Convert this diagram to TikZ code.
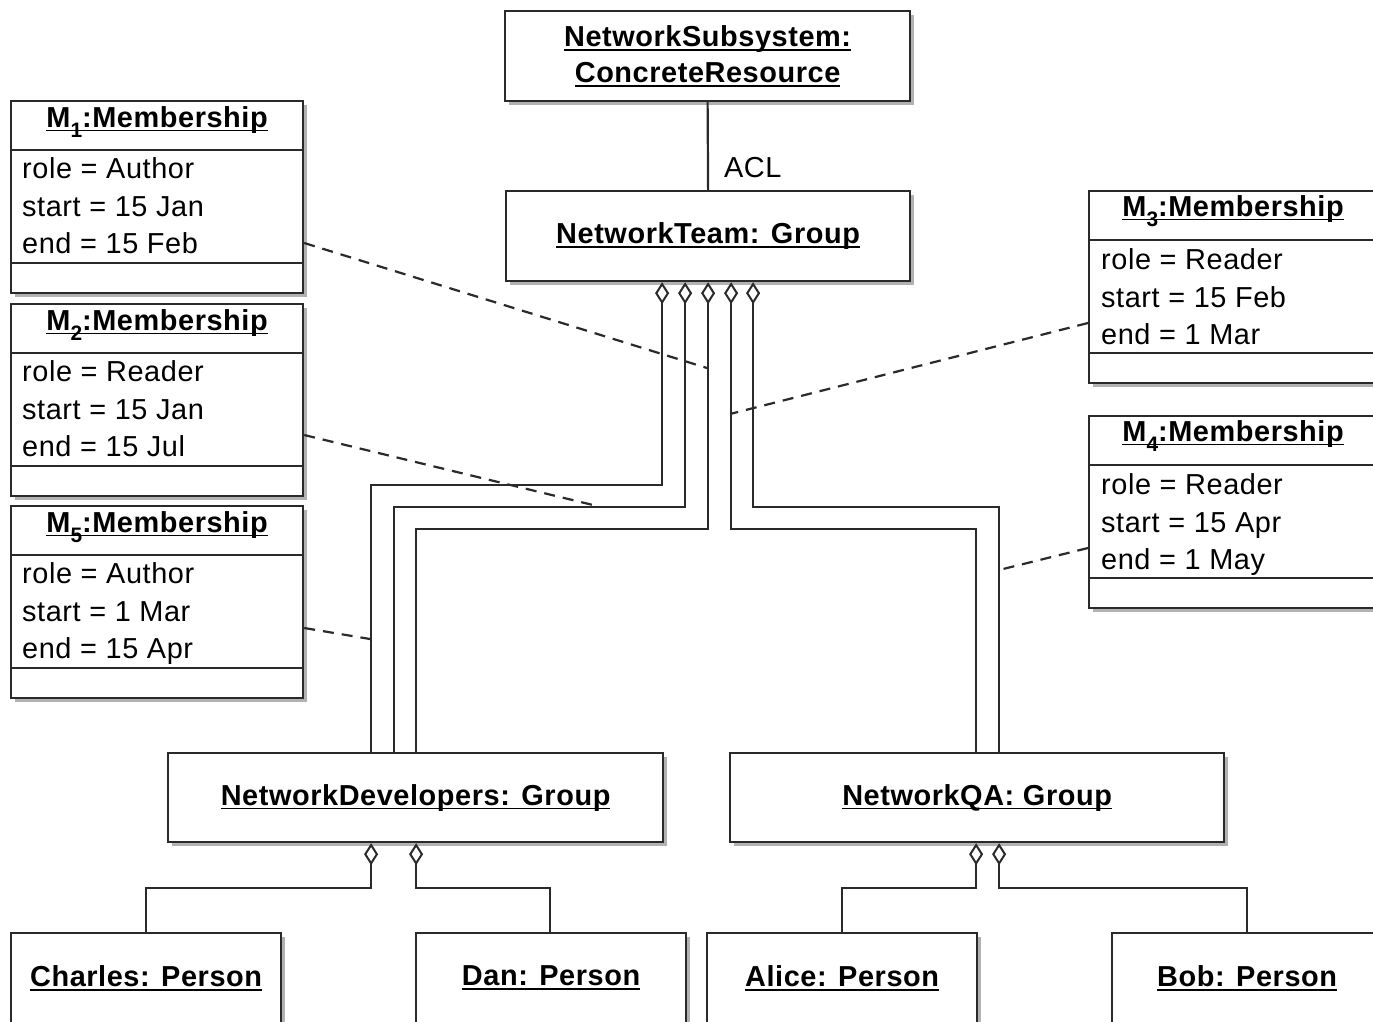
\documentclass[tikz,border=0pt]{standalone}
\usepackage{fontspec}
\setmainfont{Liberation Sans}[LetterSpace=2]
\usetikzlibrary{shadows,arrows.meta}
\newcommand\ulx[1]{\setbox0\hbox{#1}\rlap{\rule[-0.15em]{\wd0}{0.06em}}\box0}
\newcommand\sbx[1]{\raisebox{-0.36em}{\fontsize{21}{21}\selectfont #1}}
\definecolor{ln}{HTML}{2A2A2A}
\tikzset{
  obj/.style={draw=ln, line width=2.2bp, fill=white, anchor=north west,
    drop shadow={shadow xshift=4bp, shadow yshift=-4bp, opacity=0.5, fill=black!60},
    inner sep=0pt, font=\bfseries\fontsize{29}{35}\selectfont, align=center},
  memb/.style={obj, minimum width=292bp, minimum height=192bp},
  rmemb/.style={obj, minimum width=288bp, minimum height=192bp},
  grp/.style={obj, minimum height=89bp},
  pers/.style={obj, minimum width=270bp, minimum height=90bp},
  ttl/.style={anchor=base, inner sep=0pt, font=\bfseries\fontsize{29}{35}\selectfont},
  attr/.style={anchor=base west, inner sep=0pt, font=\fontsize{29}{35}\selectfont},
  conn/.style={draw=ln, line width=2.2bp},
  agg/.style={conn, {Diamond[open, length=22bp, width=14bp, line width=2bp]}-},
  dsh/.style={draw=ln, line width=2.2bp, dash pattern=on 11bp off 8bp},
  dv/.style={draw=ln, line width=2.2bp},
}
\begin{document}
\begin{tikzpicture}[x=1bp, y=-1bp]
\useasboundingbox (0,0) rectangle (1373,1021);
\clip (0,0) rectangle (1373,1021);
\fill[white] (0,0) rectangle (1373,1021);

% top objects
\node[grp, minimum width=405bp, minimum height=90bp] (ns) at (504,10) {\ulx{NetworkSubsystem:}\\[1bp]\ulx{ConcreteResource}};
\node[grp, minimum width=404bp, minimum height=90bp] (nt) at (505,190) {\ulx{NetworkTeam: Group}};
\draw[conn] (ns.south) -- (nt.north) node[pos=0.86, anchor=base west, xshift=15bp, inner sep=0pt, font=\fontsize{29}{35}\selectfont] {ACL};

% groups
\node[grp, minimum width=495bp] (nd) at (167,752) {\ulx{NetworkDevelopers: Group}};
\node[grp, minimum width=494bp] (nq) at (729,752) {\ulx{NetworkQA: Group}};

% persons
\node[pers] (ch) at (10,932) {\ulx{Charles: Person}};
\node[pers] (da) at (415,932) {\ulx{Dan: Person}};
\node[pers] (al) at (706,932) {\ulx{Alice: Person}};
\node[pers] (bo) at (1111,932) {\ulx{Bob: Person}};

% memberships
\node[memb] (m1) at (10,100) {};
\node[memb] (m2) at (10,303) {};
\node[memb] (m5) at (10,505) {};
\node[rmemb] (m3) at (1088,190) {};
\node[rmemb] (m4) at (1088,415) {};

\foreach \m/\i in {m1/1, m2/2, m5/5, m3/3, m4/4} {
  \draw[dv] ([yshift=-50bp]\m.north west) -- ([yshift=-50bp]\m.north east);
  \draw[dv] ([yshift=-163bp]\m.north west) -- ([yshift=-163bp]\m.north east);
}
\node[ttl] (m1t) at ([yshift=-27bp]m1.north) {\ulx{M\sbx{1}:Membership}};
\node[ttl] (m2t) at ([yshift=-27bp]m2.north) {\ulx{M\sbx{2}:Membership}};
\node[ttl] (m5t) at ([yshift=-27bp]m5.north) {\ulx{M\sbx{5}:Membership}};
\node[ttl] (m3t) at ([yshift=-26bp]m3.north) {\ulx{M\sbx{3}:Membership}};
\node[ttl] (m4t) at ([yshift=-26bp]m4.north) {\ulx{M\sbx{4}:Membership}};

\node[attr] (m1a) at ([xshift=12bp,yshift=-78bp]m1.north west) {role = Author};
\node[attr] (m1b) at ([xshift=12bp,yshift=-116bp]m1.north west) {start = 15 Jan};
\node[attr] (m1c) at ([xshift=12bp,yshift=-153bp]m1.north west) {end = 15 Feb};
\node[attr] (m2a) at ([xshift=12bp,yshift=-78bp]m2.north west) {role = Reader};
\node[attr] (m2b) at ([xshift=12bp,yshift=-116bp]m2.north west) {start = 15 Jan};
\node[attr] (m2c) at ([xshift=12bp,yshift=-153bp]m2.north west) {end = 15 Jul};
\node[attr] (m5a) at ([xshift=12bp,yshift=-78bp]m5.north west) {role = Author};
\node[attr] (m5b) at ([xshift=12bp,yshift=-116bp]m5.north west) {start = 1 Mar};
\node[attr] (m5c) at ([xshift=12bp,yshift=-153bp]m5.north west) {end = 15 Apr};
\node[attr] (m3a) at ([xshift=13bp,yshift=-79bp]m3.north west) {role = Reader};
\node[attr] (m3b) at ([xshift=13bp,yshift=-117bp]m3.north west) {start = 15 Feb};
\node[attr] (m3c) at ([xshift=13bp,yshift=-154bp]m3.north west) {end = 1 Mar};
\node[attr] (m4a) at ([xshift=13bp,yshift=-79bp]m4.north west) {role = Reader};
\node[attr] (m4b) at ([xshift=13bp,yshift=-117bp]m4.north west) {start = 15 Apr};
\node[attr] (m4c) at ([xshift=13bp,yshift=-154bp]m4.north west) {end = 1 May};

% aggregation NetworkTeam -> groups
\draw[agg] ([xshift=-46bp]nt.south) -- ++(0,203) -| ([xshift=-44.5bp]nd.north);
\draw[agg] ([xshift=-23bp]nt.south) -- ++(0,225) -| ([xshift=-21.5bp]nd.north);
\draw[agg] (nt.south) -- ++(0,247) -| ([xshift=0.5bp]nd.north);
\draw[agg] ([xshift=23bp]nt.south) -- ++(0,247) -| ([xshift=-1bp]nq.north);
\draw[agg] ([xshift=45bp]nt.south) -- ++(0,225) -| ([xshift=22bp]nq.north);

% aggregation groups -> persons
\draw[agg] ([xshift=-44.5bp]nd.south) -- ++(0,45) -| (ch.north);
\draw[agg] ([xshift=0.5bp]nd.south) -- ++(0,45) -| ([xshift=-1bp]da.north);
\draw[agg] ([xshift=-1bp]nq.south) -- ++(0,45) -| ([xshift=-0bp]al.north);
\draw[agg] ([xshift=22bp]nq.south) -- ++(0,45) -| ([xshift=0bp]bo.north);

% association class links
\coordinate (e1) at (707,368);
\coordinate (e2) at (593,505);
\coordinate (e5) at (370,639);
\coordinate (e3) at (730,414);
\coordinate (e4) at (999,570);
\draw[dsh] ([yshift=-143bp]m1.north east) -- (e1);
\draw[dsh] ([yshift=-132bp]m2.north east) -- (e2);
\draw[dsh] ([yshift=-123bp]m5.north east) -- (e5);
\draw[dsh] ([yshift=-133bp]m3.north west) -- (e3);
\draw[dsh] ([yshift=-133bp]m4.north west) -- (e4);
\end{tikzpicture}
\end{document}
